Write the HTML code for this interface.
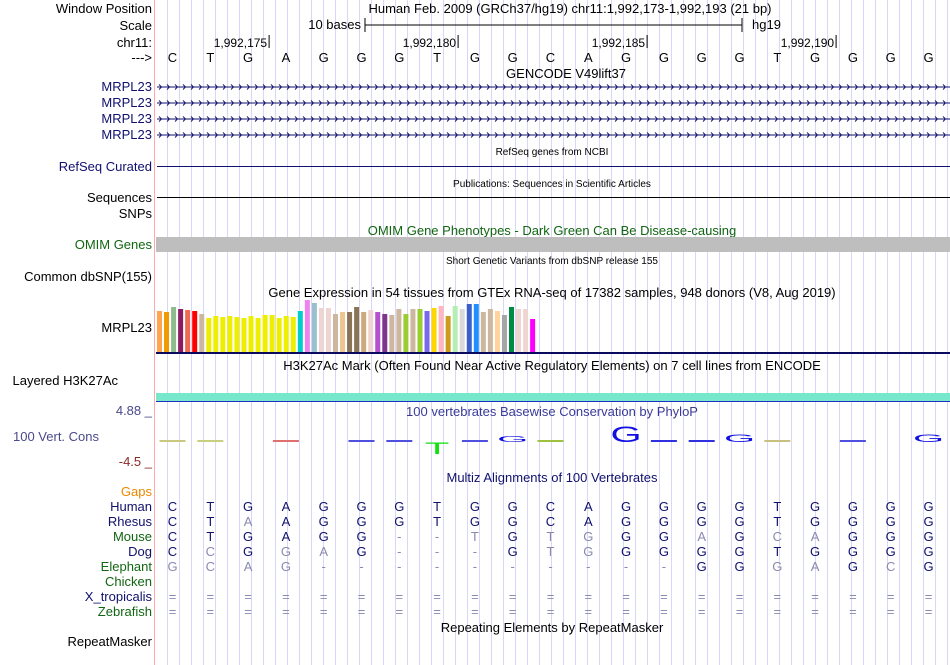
<!DOCTYPE html>
<html><head><meta charset="utf-8">
<style>
body{margin:0;background:#fff;width:950px;height:665px;overflow:hidden;position:relative;font-family:"Liberation Sans",sans-serif;}
svg{position:absolute;left:0;top:0;}
</style></head>
<body>
<svg id="g" width="950" height="665" xmlns="http://www.w3.org/2000/svg" font-family="Liberation Sans, sans-serif">
  <g id="grid"></g>
  <line x1="154.5" y1="0" x2="154.5" y2="665" stroke="#ffaaaa" stroke-width="1"/>
  <g font-size="13" text-anchor="end" fill="#000">
    <text x="152" y="13">Window Position</text>
    <text x="152" y="30">Scale</text>
    <text x="152" y="47">chr11:</text>
    <text x="152" y="62">---&gt;</text>
    <text x="152" y="91" fill="#10106e">MRPL23</text>
    <text x="152" y="107" fill="#10106e">MRPL23</text>
    <text x="152" y="123" fill="#10106e">MRPL23</text>
    <text x="152" y="139" fill="#10106e">MRPL23</text>
    <text x="152" y="171" fill="#10106e">RefSeq Curated</text>
    <text x="152" y="202">Sequences</text>
    <text x="152" y="218">SNPs</text>
    <text x="152" y="249" fill="#116611">OMIM Genes</text>
    <text x="152" y="281">Common dbSNP(155)</text>
    <text x="152" y="332">MRPL23</text>
    <text x="118" y="385">Layered H3K27Ac</text>
    <text x="99" y="441" fill="#4a4a8a">100 Vert. Cons</text>
    <text x="152" y="415" fill="#4a4a8a">4.88 _</text>
    <text x="152" y="466" fill="#8a2a2a">-4.5 _</text>
    <text x="152" y="496" fill="#ee8800">Gaps</text>
    <text x="152" y="511" fill="#10106e">Human</text>
    <text x="152" y="526" fill="#10106e">Rhesus</text>
    <text x="152" y="541" fill="#116611">Mouse</text>
    <text x="152" y="556" fill="#10106e">Dog</text>
    <text x="152" y="571" fill="#116611">Elephant</text>
    <text x="152" y="586" fill="#116611">Chicken</text>
    <text x="152" y="601" fill="#10106e">X_tropicalis</text>
    <text x="152" y="616" fill="#116611">Zebrafish</text>
    <text x="152" y="646">RepeatMasker</text>
  </g>
  <g font-size="13" text-anchor="middle">
    <text x="570" y="13">Human Feb. 2009 (GRCh37/hg19)   chr11:1,992,173-1,992,193 (21 bp)</text>
    <text x="566" y="78">GENCODE V49lift37</text>
    <text x="552" y="235" fill="#116611">OMIM Gene Phenotypes - Dark Green Can Be Disease-causing</text>
    <text x="552" y="297">Gene Expression in 54 tissues from GTEx RNA-seq of 17382 samples, 948 donors (V8, Aug 2019)</text>
    <text x="552" y="370">H3K27Ac Mark (Often Found Near Active Regulatory Elements) on 7 cell lines from ENCODE</text>
    <text x="552" y="416" fill="#3a3a9a">100 vertebrates Basewise Conservation by PhyloP</text>
    <text x="552" y="482" fill="#10106e">Multiz Alignments of 100 Vertebrates</text>
    <text x="552" y="632">Repeating Elements by RepeatMasker</text>
  </g>
  <g font-size="10" text-anchor="middle">
    <text x="552" y="155">RefSeq genes from NCBI</text>
    <text x="552" y="187">Publications: Sequences in Scientific Articles</text>
    <text x="552" y="264">Short Genetic Variants from dbSNP release 155</text>
  </g>
  <g>
    <text x="361" y="29" font-size="13" text-anchor="end">10 bases</text>
    <line x1="365" y1="25" x2="742" y2="25" stroke="#000"/>
    <line x1="365" y1="18" x2="365" y2="32" stroke="#000"/>
    <line x1="742" y1="18" x2="742" y2="32" stroke="#000"/>
    <text x="752" y="29" font-size="13">hg19</text>
  </g>
  <g id="ruler"></g>
  <g id="bases"></g>
  <g id="genes"></g>
  <line x1="157" y1="166.5" x2="950" y2="166.5" stroke="#10106e"/>
  <line x1="157" y1="197.5" x2="950" y2="197.5" stroke="#000"/>
  <rect x="156" y="237" width="794" height="15" fill="#bebebe"/>
  <g id="gtex"></g>
  <rect x="156" y="352" width="794" height="2" fill="#0a0a5e"/>
  <rect x="156" y="393" width="794" height="8" fill="#77e8cc"/>
  <rect x="156" y="401" width="794" height="1" fill="#2030c0"/>
  <g id="cons"></g>
  <g id="aln"></g>
</svg>
<script>
var NS='http://www.w3.org/2000/svg';
var refBases=['C','T','G','A','G','G','G','T','G','G','C','A','G','G','G','G','T','G','G','G','G'];
var tickLabels=['1,992,175','1,992,180','1,992,185','1,992,190'];
var tickBaseIdx=[2,7,12,17];
var gtexHeights=[41,40,45,43,42,41,38,34,36,35,36,35,34,36,34,37,37,34,36,35,41,52,49,44,44,38,40,40,45,40,42,40,38,37,43,38,43,43,41,44,46,36,46,43,48,48,40,43,41,37,45,43,43,33];
var gtexColors=['#FFA54F','#EE9A00','#8FBC8F','#8B1C62','#EE6A50','#FF0000','#CDB79E','#EEEE00','#EEEE00','#EEEE00','#EEEE00','#EEEE00','#EEEE00','#EEEE00','#EEEE00','#EEEE00','#EEEE00','#EEEE00','#EEEE00','#EEEE00','#00CDCD','#EE82EE','#9AC0CD','#EED5D2','#EED5D2','#CDB79E','#EEC591','#8B7355','#8B7355','#CDAA7D','#EED5D2','#B452CD','#7A378B','#CDB79E','#CDB79E','#9ACD32','#CDB79E','#9ACD32','#7A67EE','#FFD700','#FFB6C1','#CD9B1D','#B4EEB4','#D9D9D9','#3A5FCD','#1E90FF','#CDB79E','#CDB79E','#FFD39B','#A6A6A6','#008B45','#EED5D2','#EED5D2','#FF00FF'];
var consScores=[0.3,0.3,0,0.3,0,0.3,0.3,-2.4,0.3,1.2,0.2,0,3.2,0.5,0.5,1.6,0.4,0,0.3,0,1.6];
var consColors=['#c8c880','#c8d080','#000','#e07070','#000','#5050e0','#5050e0','#10e010','#5050e0','#1010e0','#a0c040','#000','#1010e0','#3030e0','#3030e0','#1010e0','#c8c080','#000','#5050e0','#000','#1010e0'];
var species=['Human','Rhesus','Mouse','Dog','Elephant','Chicken','X_tropicalis','Zebrafish'];
var alnRows=['CTGAGGGTGGCAGGGGTGGGG','CTaAGGGTGGCAGGGGTGGGG','CTGAGG--tGtgGGaGcaGGG','CcGgaG---GtgGGGGTGGGG','gcag----------GGgaGcG','                     ','=====================','====================='];
var alnY=[511,526,541,556,571,586,601,616];

function bx(i){return 172.5+37.8*i;}
function mk(tag,parent,attrs){var e=document.createElementNS(NS,tag);for(var k in attrs)e.setAttribute(k,attrs[k]);parent.appendChild(e);return e;}

var grid=document.getElementById('grid');
for(var x=167.5;x<950;x+=12){var l=mk('line',grid,{x1:x,y1:0,x2:x,y2:665,stroke:'#d8d8f6'});

}

var ruler=document.getElementById('ruler');
for(var i=0;i<tickLabels.length;i++){var tx=bx(tickBaseIdx[i])+21;
var tl=mk('line',ruler,{x1:tx,y1:35,x2:tx,y2:48,stroke:'#000'});


var tt=mk('text',ruler,{x:tx-2,y:47,'font-size':12,'text-anchor':'end'});tt.textContent=tickLabels[i];

}

var bases=document.getElementById('bases');
for(var i=0;i<refBases.length;i++){var t=mk('text',bases,{x:bx(i),y:62,'font-size':13,'text-anchor':'middle'});t.textContent=refBases[i];

}

var genes=document.getElementById('genes');
[87,103,119,135].forEach(function(y){
 var g=mk('g',genes,{});
 
 
 mk('line',g,{x1:157,y1:y,x2:950,y2:y,stroke:'#10106e'});
 var d='';for(var x=159;x<948;x+=8){d+='M'+x+' '+(y-2.5)+'L'+(x+2.5)+' '+y+'L'+x+' '+(y+2.5);}
 mk('path',g,{d:d,stroke:'#10106e',fill:'none','stroke-width':0.9});
});

var gtex=document.getElementById('gtex');
for(var i=0;i<gtexHeights.length;i++){
 var r=mk('rect',gtex,{x:157+i*7.04,y:352-gtexHeights[i],width:5,height:gtexHeights[i],fill:gtexColors[i]});
 
 }

var cons=document.getElementById('cons');var base=442;
for(var i=0;i<consScores.length;i++){
 var s=consScores[i];if(s===0)continue;var h=Math.abs(s)*5;var cx=bx(i);
 if(h<3){var r=mk('rect',cons,{x:cx-13,y:base-2,width:26,height:2,fill:consColors[i]});
  
  }
 else{var sy=h/14.4;var t=mk('text',cons,{x:0,y:0,'font-size':20,'text-anchor':'middle',fill:consColors[i],
   transform:'translate('+cx+','+(s>0?base:base+h)+') scale(2.0,'+sy+')'});
  t.textContent=refBases[i];
  
  }
}

var aln=document.getElementById('aln');
for(var r=0;r<alnRows.length;r++){for(var i=0;i<21;i++){var c=alnRows[r][i];if(c===' ')continue;
 var light=(c!==c.toUpperCase())||c==='-'||c==='=';
 var t=mk('text',aln,{x:bx(i),y:alnY[r],'font-size':13,'text-anchor':'middle',fill:light?'#8a8ab0':'#10106e'});
 t.textContent=c.toUpperCase();
 
 }}
</script>
</body></html>
